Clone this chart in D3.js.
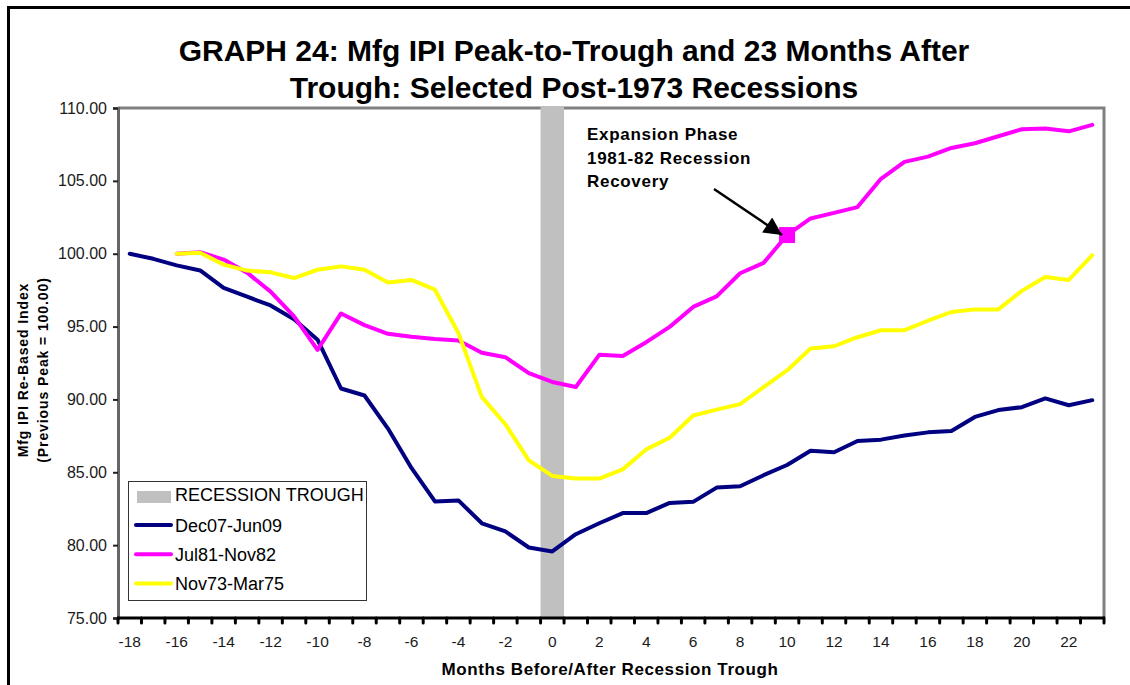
<!DOCTYPE html>
<html>
<head>
<meta charset="utf-8">
<script src="https://cdn.jsdelivr.net/npm/d3@7"></script>
<style>
  body { margin: 0; background: #fff; }
  svg { font-family: Arial, "Liberation Sans", sans-serif; }
</style>
</head>
<body>
<svg class="chartsvg" width="1130" height="685"></svg>
<script>
// months before/after the recession trough
var months = [-18,-17,-16,-15,-14,-13,-12,-11,-10,-9,-8,-7,-6,-5,-4,-3,-2,-1,0,
              1,2,3,4,5,6,7,8,9,10,11,12,13,14,15,16,17,18,19,20,21,22,23];
var monthLabels = [-18,-16,-14,-12,-10,-8,-6,-4,-2,0,2,4,6,8,10,12,14,16,18,20,22];
var yTicks = [75,80,85,90,95,100,105,110];

var dec07 = [100.0,99.65,99.2,98.85,97.65,97.05,96.45,95.5,94.1,90.75,90.27,88.0,85.3,83.0,83.07,81.5,80.94,79.84,79.57,
             80.75,81.5,82.2,82.2,82.9,82.97,83.95,84.04,84.8,85.5,86.48,86.37,87.15,87.24,87.53,87.74,87.83,88.8,89.27,89.47,90.07,89.6,89.95];
var jul81 = [null,null,100.0,100.1,99.6,98.7,97.4,95.7,93.4,95.9,95.1,94.5,94.3,94.15,94.04,93.2,92.9,91.8,91.2,
             90.85,93.06,92.98,93.93,94.98,96.35,97.07,98.66,99.37,101.28,102.42,102.8,103.2,105.14,106.3,106.66,107.26,107.58,108.06,108.54,108.6,108.4,108.84];
var nov73 = [null,null,100.0,100.07,99.25,98.84,98.72,98.33,98.9,99.13,98.9,98.03,98.2,97.53,94.56,90.16,88.3,85.82,84.75,
             84.57,84.57,85.2,86.57,87.37,88.9,89.3,89.68,90.85,91.99,93.5,93.65,94.27,94.75,94.75,95.4,96.0,96.18,96.18,97.45,98.4,98.2,99.9];

var seriesNames = ["Dec07-Jun09", "Jul81-Nov82", "Nov73-Mar75"];
var seriesColors = ["#000080", "#ff00ff", "#ffff00"];
var troughMonth = 0;
var markerMonth = 10;
var noteLines = ["Expansion Phase", "1981-82 Recession", "Recovery"];

var margin = {top: 108, right: 26, bottom: 67, left: 118};
var width = 1130, height = 685;

var svg = d3.select(".chartsvg");

// outer frame
svg.append("rect")
    .attr("x", 8.5).attr("y", 7.5)
    .attr("width", 1140).attr("height", 700)
    .attr("fill", "none")
    .attr("stroke", "#000")
    .attr("stroke-width", 3);

var x = d3.scaleBand()
    .domain(months)
    .range([margin.left, width - margin.right])
    .padding(0);

var y = d3.scaleLinear()
    .domain([75, 110])
    .range([height - margin.bottom, margin.top]);

var cx = function(m) { return x(m) + x.bandwidth() / 2; };

// top and right border of plot area
svg.append("path")
    .attr("d", "M" + x.range()[0] + "," + y(110) + "H" + x.range()[1] + "V" + y(75))
    .attr("fill", "none")
    .attr("stroke", "#808080")
    .attr("stroke-width", 3);

// trough band
svg.append("rect")
    .attr("x", x(troughMonth))
    .attr("y", y(110) - 1)
    .attr("width", x.bandwidth())
    .attr("height", y(75) - y(110) + 1)
    .attr("fill", "#c0c0c0");

// y axis
var yAxis = svg.append("g")
    .attr("class", "yaxis")
    .attr("transform", "translate(" + margin.left + ",0)")
    .call(d3.axisLeft(y).tickValues(yTicks).tickFormat(d3.format(".2f")).tickSize(5).tickPadding(6));
yAxis.select(".domain").attr("stroke", "#666").attr("stroke-width", 3);
yAxis.selectAll(".tick line").attr("stroke", "#222").attr("stroke-width", 2);
yAxis.selectAll("text")
    .style("font-size", "16px")
    .attr("fill", "#1a1a1a");

// x axis labels
var xAxis = svg.append("g")
    .attr("class", "xaxis")
    .attr("transform", "translate(0," + y(75) + ")")
    .call(d3.axisBottom(x).tickValues(monthLabels).tickSize(0).tickPadding(18));
xAxis.select(".domain").remove();
xAxis.selectAll("text")
    .style("font-size", "15.5px")
    .attr("fill", "#1a1a1a");

// x axis line and boundary ticks
var bounds = months.map(function(m) { return x(m); }).concat([x.range()[1]]);
svg.append("g")
    .attr("class", "xticks")
    .selectAll("line")
    .data(bounds)
    .enter().append("line")
    .attr("x1", function(d) { return d; })
    .attr("x2", function(d) { return d; })
    .attr("y1", y(75))
    .attr("y2", y(75) + 5)
    .attr("stroke", "#000")
    .attr("stroke-width", 3)
    .attr("stroke-linecap", "round");
svg.append("line")
    .attr("x1", x.range()[0] - 1).attr("x2", x.range()[1] + 1)
    .attr("y1", y(75)).attr("y2", y(75))
    .attr("stroke", "#000")
    .attr("stroke-width", 3);

// series lines
var allSeries = [dec07, jul81, nov73];
var line = d3.line()
    .defined(function(d) { return d.v != null; })
    .x(function(d) { return cx(d.m); })
    .y(function(d) { return y(d.v); });

allSeries.forEach(function(vals, i) {
    var pts = months.map(function(m, j) { return {m: m, v: vals[j]}; });
    svg.append("path")
        .datum(pts)
        .attr("class", "series")
        .attr("d", line)
        .attr("fill", "none")
        .attr("stroke", seriesColors[i])
        .attr("stroke-width", 4)
        .attr("stroke-linejoin", "round")
        .attr("stroke-linecap", "round");
});

// marker on 1981-82 recovery
var mIdx = months.indexOf(markerMonth);
svg.append("rect")
    .attr("x", cx(markerMonth) - 8)
    .attr("y", y(jul81[mIdx]) - 8)
    .attr("width", 16)
    .attr("height", 16)
    .attr("fill", "#ff00ff");

// annotation
svg.append("defs").append("marker")
    .attr("id", "arrowhead")
    .attr("viewBox", "0 0 10 10")
    .attr("refX", 10).attr("refY", 5)
    .attr("markerWidth", 23).attr("markerHeight", 18)
    .attr("markerUnits", "userSpaceOnUse")
    .attr("orient", "auto")
    .append("path")
    .attr("d", "M0,0L10,5L0,10Z")
    .attr("fill", "#000");

svg.append("line")
    .attr("x1", 714).attr("y1", 189)
    .attr("x2", cx(markerMonth) - 5).attr("y2", y(jul81[mIdx]))
    .attr("stroke", "#000")
    .attr("stroke-width", 2.5)
    .attr("marker-end", "url(#arrowhead)");

svg.append("g")
    .attr("class", "note")
    .selectAll("text")
    .data(noteLines)
    .enter().append("text")
    .attr("x", 587)
    .attr("y", function(d, i) { return 140 + i * 23.5; })
    .style("font-size", "17px")
    .style("font-weight", "bold")
    .style("letter-spacing", "0.7px")
    .text(function(d) { return d; });

// title
var title = svg.append("g").attr("class", "title");
title.append("text")
    .attr("x", 574).attr("y", 61)
    .style("text-anchor", "middle")
    .style("font-size", "30px")
    .style("font-weight", "bold")
    .text("GRAPH 24: Mfg IPI Peak-to-Trough and 23 Months After");
title.append("text")
    .attr("x", 574).attr("y", 98)
    .style("text-anchor", "middle")
    .style("font-size", "30px")
    .style("font-weight", "bold")
    .text("Trough: Selected Post-1973 Recessions");

// axis titles
svg.append("text")
    .attr("x", 610).attr("y", 675)
    .style("text-anchor", "middle")
    .style("font-size", "17px")
    .style("font-weight", "bold")
    .style("letter-spacing", "0.6px")
    .text("Months Before/After Recession Trough");

var ytitle = svg.append("g")
    .attr("transform", "translate(0,370) rotate(-90)");
ytitle.append("text")
    .attr("x", 0).attr("y", 28)
    .style("text-anchor", "middle")
    .style("font-size", "14px")
    .style("font-weight", "bold")
    .style("letter-spacing", "0.9px")
    .text("Mfg IPI Re-Based Index");
ytitle.append("text")
    .attr("x", 0).attr("y", 48)
    .style("text-anchor", "middle")
    .style("font-size", "14px")
    .style("font-weight", "bold")
    .style("letter-spacing", "0.9px")
    .text("(Previous Peak = 100.00)");

// legend
var legend = svg.append("g").attr("class", "legendgroup");
legend.append("rect")
    .attr("x", 128.5).attr("y", 481.5)
    .attr("width", 238).attr("height", 119)
    .attr("fill", "#fff")
    .attr("stroke", "#333")
    .attr("stroke-width", 1);
legend.append("rect")
    .attr("x", 137).attr("y", 491)
    .attr("width", 34).attr("height", 12)
    .attr("fill", "#c0c0c0");
legend.append("text")
    .attr("x", 175).attr("y", 501)
    .style("font-size", "18px")
    .text("RECESSION TROUGH");

seriesNames.forEach(function(name, i) {
    var ly = 525 + i * 29.2;
    legend.append("line")
        .attr("x1", 136).attr("x2", 171)
        .attr("y1", ly).attr("y2", ly)
        .attr("stroke", seriesColors[i])
        .attr("stroke-width", 4)
        .attr("stroke-linecap", "round");
    legend.append("text")
        .attr("x", 175).attr("y", ly + 6.5)
        .style("font-size", "18px")
        .text(name);
});
</script>
</body>
</html>
